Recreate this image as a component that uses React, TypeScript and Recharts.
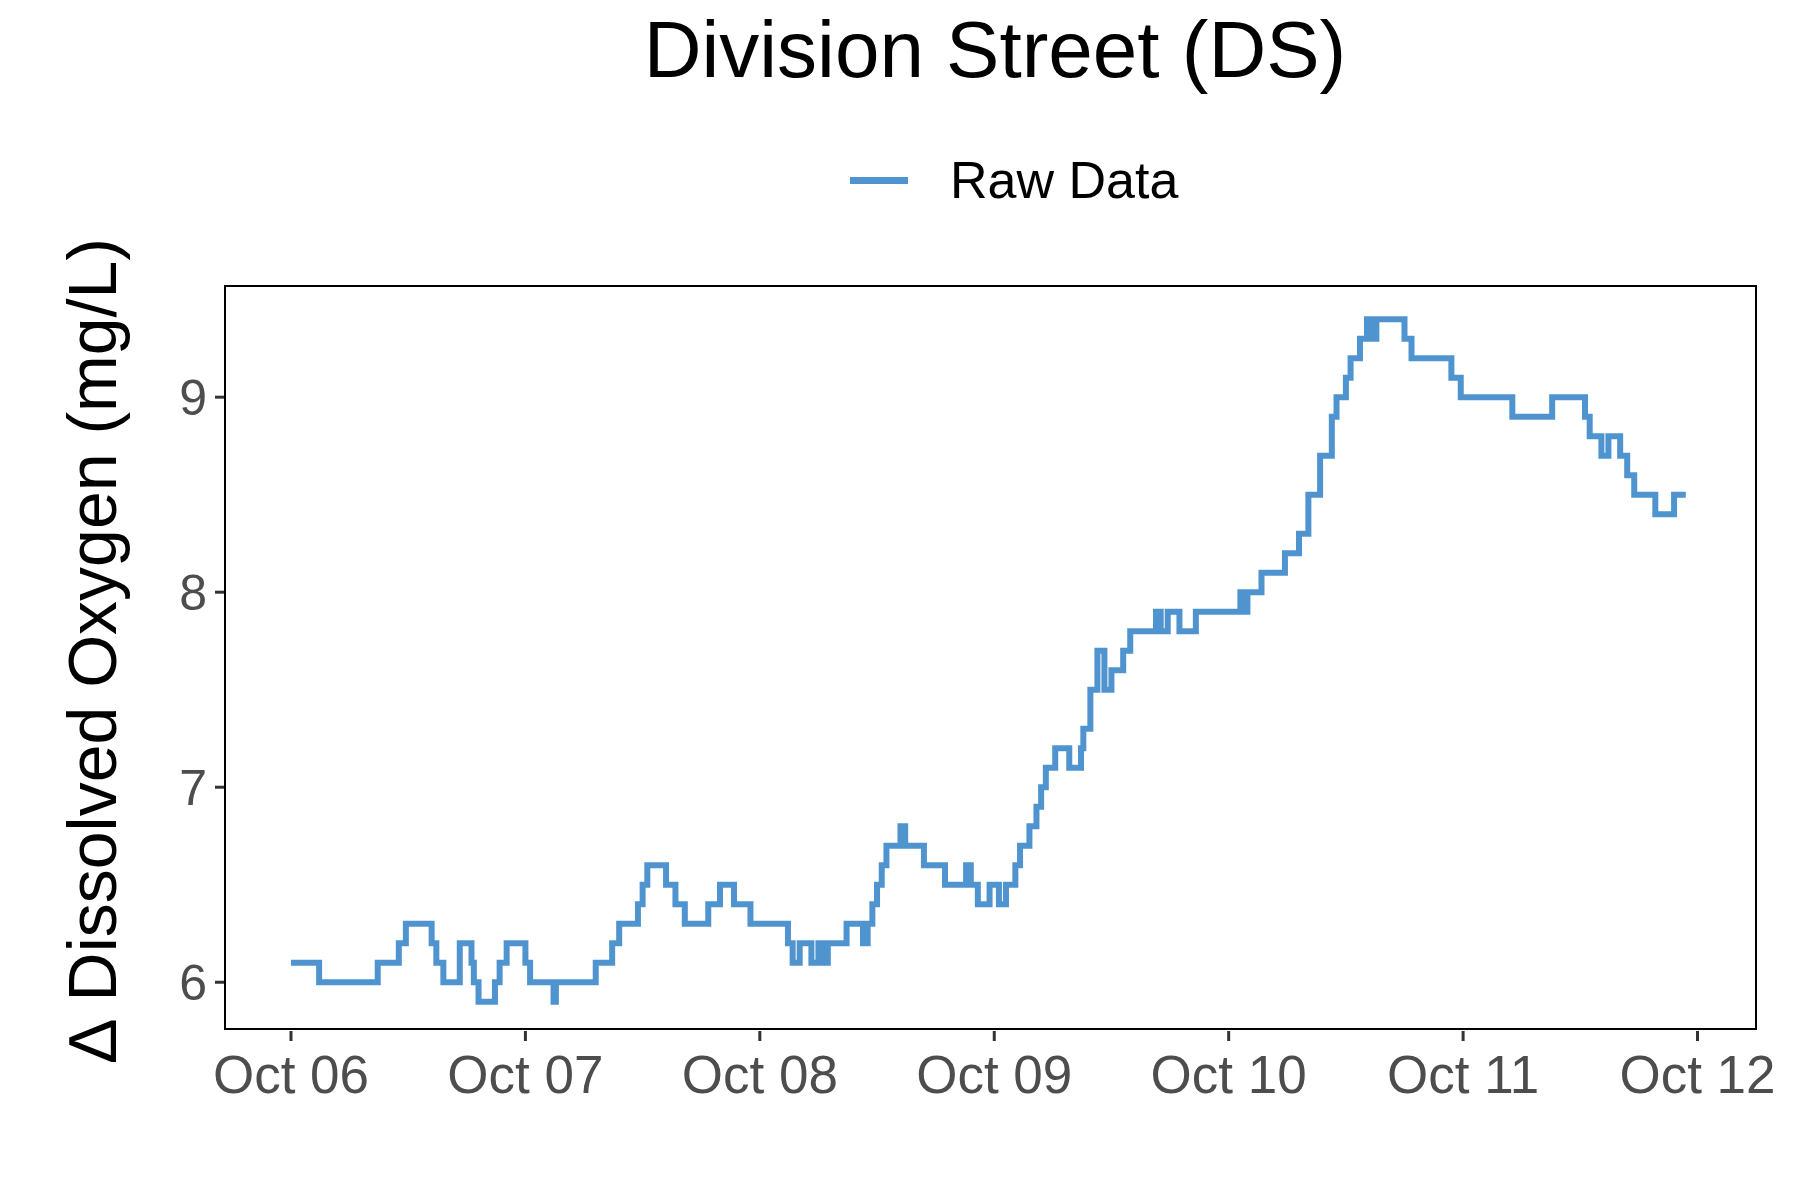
import React from 'react'
import { LineChart, Line, XAxis, YAxis } from 'recharts'

const days = [0, 0.12, 0.37, 0.46, 0.49, 0.6, 0.62, 0.65, 0.72, 0.77, 0.78, 0.8, 0.87, 0.89, 0.92, 1.0, 1.02, 1.12, 1.13, 1.3, 1.37, 1.4, 1.48, 1.5, 1.52, 1.6, 1.64, 1.68, 1.78, 1.83, 1.89, 1.96, 2.12, 2.14, 2.17, 2.22, 2.25, 2.27, 2.29, 2.37, 2.44, 2.46, 2.48, 2.5, 2.52, 2.54, 2.6, 2.62, 2.7, 2.79, 2.88, 2.9, 2.93, 2.98, 3.02, 3.05, 3.09, 3.11, 3.15, 3.18, 3.2, 3.22, 3.26, 3.32, 3.37, 3.38, 3.41, 3.44, 3.47, 3.5, 3.55, 3.58, 3.69, 3.71, 3.74, 3.79, 3.86, 4.05, 4.06, 4.08, 4.14, 4.24, 4.3, 4.34, 4.39, 4.44, 4.46, 4.5, 4.52, 4.56, 4.59, 4.61, 4.63, 4.75, 4.78, 4.95, 4.99, 5.21, 5.38, 5.52, 5.54, 5.59, 5.62, 5.67, 5.7, 5.73, 5.82, 5.9, 5.95]
const oxygen = [6.1, 6.0, 6.1, 6.2, 6.3, 6.2, 6.1, 6.0, 6.2, 6.1, 6.0, 5.9, 6.0, 6.1, 6.2, 6.1, 6.0, 5.9, 6.0, 6.1, 6.2, 6.3, 6.4, 6.5, 6.6, 6.5, 6.4, 6.3, 6.4, 6.5, 6.4, 6.3, 6.2, 6.1, 6.2, 6.1, 6.2, 6.1, 6.2, 6.3, 6.2, 6.3, 6.4, 6.5, 6.6, 6.7, 6.8, 6.7, 6.6, 6.5, 6.6, 6.5, 6.4, 6.5, 6.4, 6.5, 6.6, 6.7, 6.8, 6.9, 7.0, 7.1, 7.2, 7.1, 7.2, 7.3, 7.5, 7.7, 7.5, 7.6, 7.7, 7.8, 7.9, 7.8, 7.9, 7.8, 7.9, 8.0, 7.9, 8.0, 8.1, 8.2, 8.3, 8.5, 8.7, 8.9, 9.0, 9.1, 9.2, 9.3, 9.4, 9.3, 9.4, 9.3, 9.2, 9.1, 9.0, 8.9, 9.0, 8.9, 8.8, 8.7, 8.8, 8.7, 8.6, 8.5, 8.4, 8.5, 8.5]
const dayTicks = [0, 1, 2, 3, 4, 5, 6]
const dayLabels = ['Oct 06', 'Oct 07', 'Oct 08', 'Oct 09', 'Oct 10', 'Oct 11', 'Oct 12']
const yTicks = [6, 7, 8, 9]

const data = days.map((d, i) => ({ t: d, v: oxygen[i] }))
const font = 'Arial, "Liberation Sans", sans-serif'
const blue = '#4f94cf'

export default function App() {
  return (
    <div style={{ position: 'relative', width: 1800, height: 1200, margin: -8, background: '#fff', fontFamily: font }}>
      <div style={{ position: 'absolute', top: 4, left: 0, width: 1990, textAlign: 'center', fontSize: 80 }}>
        Division Street (DS)
      </div>
      <div style={{ position: 'absolute', top: 150, left: 850, display: 'flex', alignItems: 'center', fontSize: 52 }}>
        <span style={{ display: 'inline-block', width: 58, height: 7, background: blue, marginRight: 42 }} />
        Raw Data
      </div>
      <div style={{ position: 'absolute', left: 92, top: 650, transform: 'translate(-50%, -50%) rotate(-90deg)', whiteSpace: 'nowrap', fontSize: 68 }}>
        ∆ Dissolved Oxygen (mg/L)
      </div>
      <div style={{ position: 'absolute', left: 0, top: 0 }}>
        <LineChart width={1800} height={1200} data={data} margin={{ top: 286, right: 42, bottom: 0, left: 0 }}>
          <XAxis
            dataKey="t"
            type="number"
            domain={[-0.2815, 6.258]}
            ticks={dayTicks}
            tickFormatter={(v: number) => dayLabels[v]}
            height={169}
            tick={{ fill: '#4d4d4d', fontSize: 53, fontFamily: font, dy: 12 }}
            tickLine={{ stroke: '#333', strokeWidth: 3 }}
            tickSize={10}
            axisLine={false}
            allowDataOverflow
          />
          <YAxis
            type="number"
            domain={[5.75, 9.57]}
            ticks={yTicks}
            width={225}
            tick={{ fill: '#4d4d4d', fontSize: 50, fontFamily: font, dx: -6 }}
            tickLine={{ stroke: '#333', strokeWidth: 3 }}
            tickSize={10}
            axisLine={false}
            allowDataOverflow
          />
          <Line type="stepAfter" dataKey="v" stroke={blue} strokeWidth={6} dot={false} isAnimationActive={false} />
        </LineChart>
      </div>
      <div style={{ position: 'absolute', left: 224, top: 285, width: 1533, height: 745, border: '2px solid #000', boxSizing: 'border-box', pointerEvents: 'none' }} />
    </div>
  )
}
